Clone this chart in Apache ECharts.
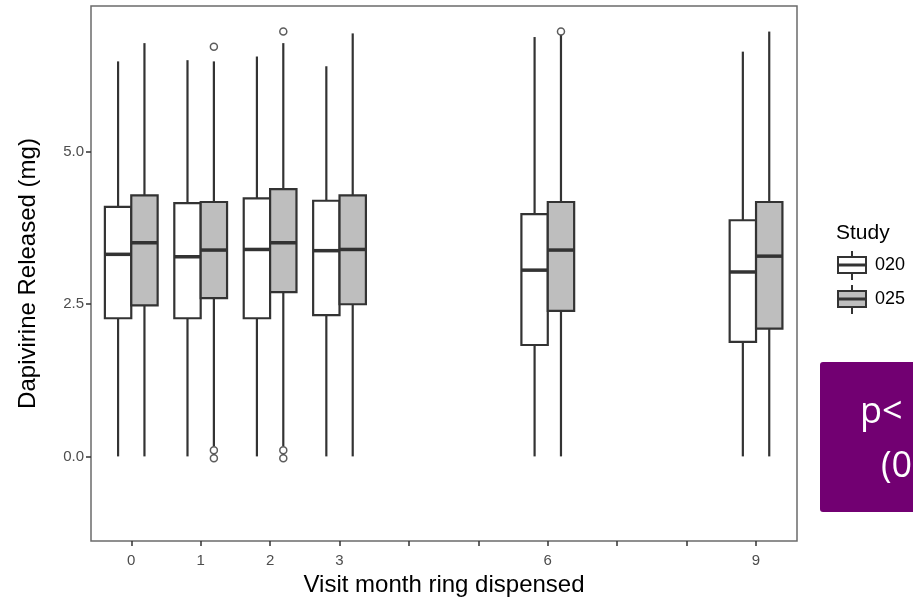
<!DOCTYPE html>
<html>
<head>
<meta charset="utf-8">
<script src="https://cdn.jsdelivr.net/npm/echarts@6/dist/echarts.min.js"></script>
<style>
  html, body { margin: 0; padding: 0; background: #fff; }
  #chart { width: 913px; height: 598px; }
</style>
</head>
<body>
<div id="chart"></div>
<script>
// visit months on the x axis
const months = [0, 1, 2, 3, 6, 9]
const xTicks = [0, 1, 2, 3, 4, 5, 6, 7, 8, 9]
const xLabels = [0, 1, 2, 3, 6, 9]
const yTicks = [0, 2.5, 5]

// [min, q1, median, q3, max] per month
const study020 = [
  [0, 2.27, 3.32, 4.10, 6.49],
  [0, 2.27, 3.28, 4.16, 6.51],
  [0, 2.27, 3.40, 4.24, 6.57],
  [0, 2.32, 3.38, 4.20, 6.41],
  [0, 1.83, 3.06, 3.98, 6.89],
  [0, 1.88, 3.03, 3.88, 6.65]
]
const study025 = [
  [0, 2.48, 3.51, 4.29, 6.79],
  [0.17, 2.60, 3.39, 4.18, 6.49],
  [0.17, 2.70, 3.51, 4.39, 6.79],
  [0, 2.50, 3.40, 4.29, 6.95],
  [0, 2.39, 3.39, 4.18, 6.92],
  [0, 2.10, 3.29, 4.18, 6.98]
]
// [month, value]
const outliers020 = []
const outliers025 = [
  [1, 6.73], [1, 0.1], [1, -0.03],
  [2, 6.98], [2, 0.1], [2, -0.03],
  [6, 6.98]
]

const studies = ['020', '025']
const fills = ['#ffffff', '#bebebe']
const dodge = [-0.19, 0.19]
const boxWidth = 0.38
const ink = '#333333'

const chart = echarts.init(document.getElementById('chart'))

function makeRender(offset, fill) {
  return function (params, api) {
    const x = api.value(0) + offset
    const half = api.size([boxWidth, 0])[0] / 2
    const pMin = api.coord([x, api.value(1)])
    const pQ1 = api.coord([x, api.value(2)])
    const pMed = api.coord([x, api.value(3)])
    const pQ3 = api.coord([x, api.value(4)])
    const pMax = api.coord([x, api.value(5)])
    const line = { stroke: ink, lineWidth: 2.2 }
    return {
      type: 'group',
      children: [
        { type: 'line', shape: { x1: pMin[0], y1: pMin[1], x2: pQ1[0], y2: pQ1[1] }, style: line },
        { type: 'line', shape: { x1: pQ3[0], y1: pQ3[1], x2: pMax[0], y2: pMax[1] }, style: line },
        {
          type: 'rect',
          shape: { x: pQ3[0] - half, y: pQ3[1], width: half * 2, height: pQ1[1] - pQ3[1] },
          style: { fill: fill, stroke: ink, lineWidth: 2.2 }
        },
        {
          type: 'line',
          shape: { x1: pMed[0] - half, y1: pMed[1], x2: pMed[0] + half, y2: pMed[1] },
          style: { stroke: ink, lineWidth: 3.5 }
        }
      ]
    }
  }
}

function boxData(rows) {
  return rows.map((r, i) => [months[i]].concat(r))
}

function shift(points, offset) {
  return points.map(p => [p[0] + offset, p[1]])
}

// legend drawn by hand, ggplot style
function legendGlyph(i) {
  const top = 257 + i * 34
  return {
    type: 'group',
    children: [
      { type: 'line', shape: { x1: 852, y1: top - 6, x2: 852, y2: top + 23 }, style: { stroke: ink, lineWidth: 2 } },
      { type: 'rect', shape: { x: 838, y: top, width: 28, height: 16 }, style: { fill: fills[i], stroke: ink, lineWidth: 2 } },
      { type: 'line', shape: { x1: 838, y1: top + 8, x2: 866, y2: top + 8 }, style: { stroke: ink, lineWidth: 3 } },
      {
        type: 'text', x: 875, y: top + 8,
        style: { text: studies[i], fill: '#000', font: '18px "Liberation Sans", Arial, sans-serif', verticalAlign: 'middle' }
      }
    ]
  }
}

const option = {
  animation: false,
  grid: {
    left: 91, right: 116, top: 6, bottom: 57,
    containLabel: false,
    outerBoundsMode: 'none',
    show: true, borderColor: '#6b6b6b', borderWidth: 1.5, backgroundColor: '#fff'
  },
  xAxis: {
    type: 'value',
    min: -0.58,
    max: 9.59,
    name: 'Visit month ring dispensed',
    nameLocation: 'middle',
    nameGap: 29,
    nameTextStyle: { color: '#000', fontSize: 24, fontFamily: 'Liberation Sans' },
    axisLine: { show: false, onZero: false },
    axisTick: { show: true, customValues: xTicks, length: 5, lineStyle: { color: ink, width: 1.5 } },
    axisLabel: { customValues: xLabels, color: '#4d4d4d', fontSize: 15, fontFamily: 'Liberation Sans', margin: 12 },
    splitLine: { show: false }
  },
  yAxis: {
    type: 'value',
    min: -1.39,
    max: 7.40,
    name: 'Dapivirine Released (mg)',
    nameLocation: 'middle',
    nameGap: 51,
    nameRotate: 90,
    nameTextStyle: { color: '#000', fontSize: 24, fontFamily: 'Liberation Sans' },
    axisLine: { show: false, onZero: false },
    axisTick: { show: true, customValues: yTicks, length: 5, lineStyle: { color: ink, width: 1.5 } },
    axisLabel: {
      customValues: yTicks, color: '#4d4d4d', fontSize: 15, fontFamily: 'Liberation Sans', margin: 7,
      formatter: v => v.toFixed(1)
    },
    splitLine: { show: false }
  },
  series: [
    { name: studies[0], type: 'custom', renderItem: makeRender(dodge[0], fills[0]), data: boxData(study020) },
    { name: studies[1], type: 'custom', renderItem: makeRender(dodge[1], fills[1]), data: boxData(study025) },
    {
      name: studies[0] + ' outliers', type: 'scatter', data: shift(outliers020, dodge[0]),
      symbol: 'circle', symbolSize: 7,
      itemStyle: { color: 'rgba(0,0,0,0)', borderColor: ink, borderWidth: 1.5 }
    },
    {
      name: studies[1] + ' outliers', type: 'scatter', data: shift(outliers025, dodge[1]),
      symbol: 'circle', symbolSize: 7,
      itemStyle: { color: 'rgba(0,0,0,0)', borderColor: ink, borderWidth: 1.5 }
    }
  ],
  graphic: [
    {
      type: 'text', x: 836, y: 233,
      style: { text: 'Study', fill: '#000', font: '21px "Liberation Sans", Arial, sans-serif', verticalAlign: 'middle' }
    },
    legendGlyph(0),
    legendGlyph(1),
    {
      type: 'rect',
      shape: { x: 820, y: 362, width: 110, height: 150, r: 3 },
      style: { fill: '#720072' }
    },
    {
      type: 'text', x: 860, y: 413,
      style: { text: 'p<', fill: '#fff', font: '36px "Open Sans", sans-serif', verticalAlign: 'middle' }
    },
    {
      type: 'text', x: 881, y: 467,
      style: { text: '(0', fill: '#fff', font: '36px "Open Sans", sans-serif', verticalAlign: 'middle' }
    }
  ]
}

chart.setOption(option)
</script>
</body>
</html>
